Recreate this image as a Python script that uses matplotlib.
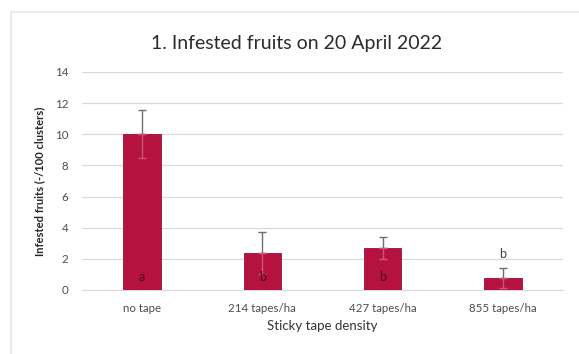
import numpy as np
import matplotlib
matplotlib.use("Agg")
import matplotlib.pyplot as plt
from matplotlib.patches import Rectangle

plt.rcParams["font.family"] = ["Lato", "DejaVu Sans"]

# Infested fruits per 100 clusters by sticky tape density
categories = ["no tape", "214 tapes/ha", "427 tapes/ha", "855 tapes/ha"]
means = [10.0, 2.35, 2.7, 0.75]
errors = [1.55, 1.35, 0.7, 0.65]
letters_inside = ["a", "b", "b", ""]
letters_above = ["", "", "", "b"]

bar_color = "#B5123F"
grid_color = "#D9D9D9"
text_color = "#404040"

fig = plt.figure(figsize=(5.79, 3.54), dpi=100)
fig.patch.set_facecolor("white")

# light outer frame of the chart area
fig.add_artist(Rectangle((11 / 579, -0.01), 1.0, 1 - 12 / 354 + 0.01,
                         transform=fig.transFigure, fill=False,
                         edgecolor="#E6E6E6", linewidth=1.2))

ax = fig.add_axes([82 / 579, 1 - 290 / 354, (563 - 82) / 579, (290 - 72) / 354])
x = np.arange(len(categories))

ax.bar(x, means, width=0.31, color=bar_color, edgecolor="#9E0E36",
       linewidth=0.6, zorder=3)
err_arr = np.array(errors)
# upper half of the error bars in grey, lower half faint over the bar
ax.errorbar(x, means, yerr=[np.zeros_like(err_arr), err_arr], fmt="none",
            ecolor="#6E6E6E", elinewidth=1.0, capsize=3, capthick=1.0, zorder=4)
ax.errorbar(x, means, yerr=[err_arr, np.zeros_like(err_arr)], fmt="none",
            ecolor="#C9567A", elinewidth=1.0, capsize=3, capthick=1.0, zorder=4)

for xi, lab in zip(x, letters_inside):
    if lab:
        ax.text(xi, 0.85, lab, ha="center", va="center", fontsize=9,
                color="#4A0818", zorder=5)
for xi, m, e, lab in zip(x, means, errors, letters_above):
    if lab:
        ax.text(xi, m + e + 0.55, lab, ha="center", va="bottom",
                fontsize=9, color=text_color, zorder=5)

ax.set_xlim(-0.5, len(categories) - 0.5)
ax.set_ylim(0, 14)
ax.set_yticks(np.arange(0, 15, 2))
ax.set_xticks(x)
ax.set_xticklabels(categories)
ax.yaxis.grid(True, color=grid_color, linewidth=0.9, zorder=0)
ax.set_axisbelow(True)
for s in ["top", "right", "left"]:
    ax.spines[s].set_visible(False)
ax.spines["bottom"].set_color(grid_color)
ax.tick_params(axis="both", length=0, labelsize=8.3, colors="#4D4D4D")
ax.tick_params(axis="x", pad=9)
ax.tick_params(axis="y", pad=10)

ax.set_ylabel("Infested fruits (-/100 clusters)", fontsize=8,
              color="#262626", fontweight="bold", labelpad=7)
ax.set_xlabel("Sticky tape density", fontsize=9.5, color="#333333", labelpad=5)

fig.text(297 / 579, 1 - 43 / 354, "1. Infested fruits on 20 April 2022",
         ha="center", va="center", fontsize=14, color="#2B2B2B")

fig.savefig("out.png", dpi=100)
